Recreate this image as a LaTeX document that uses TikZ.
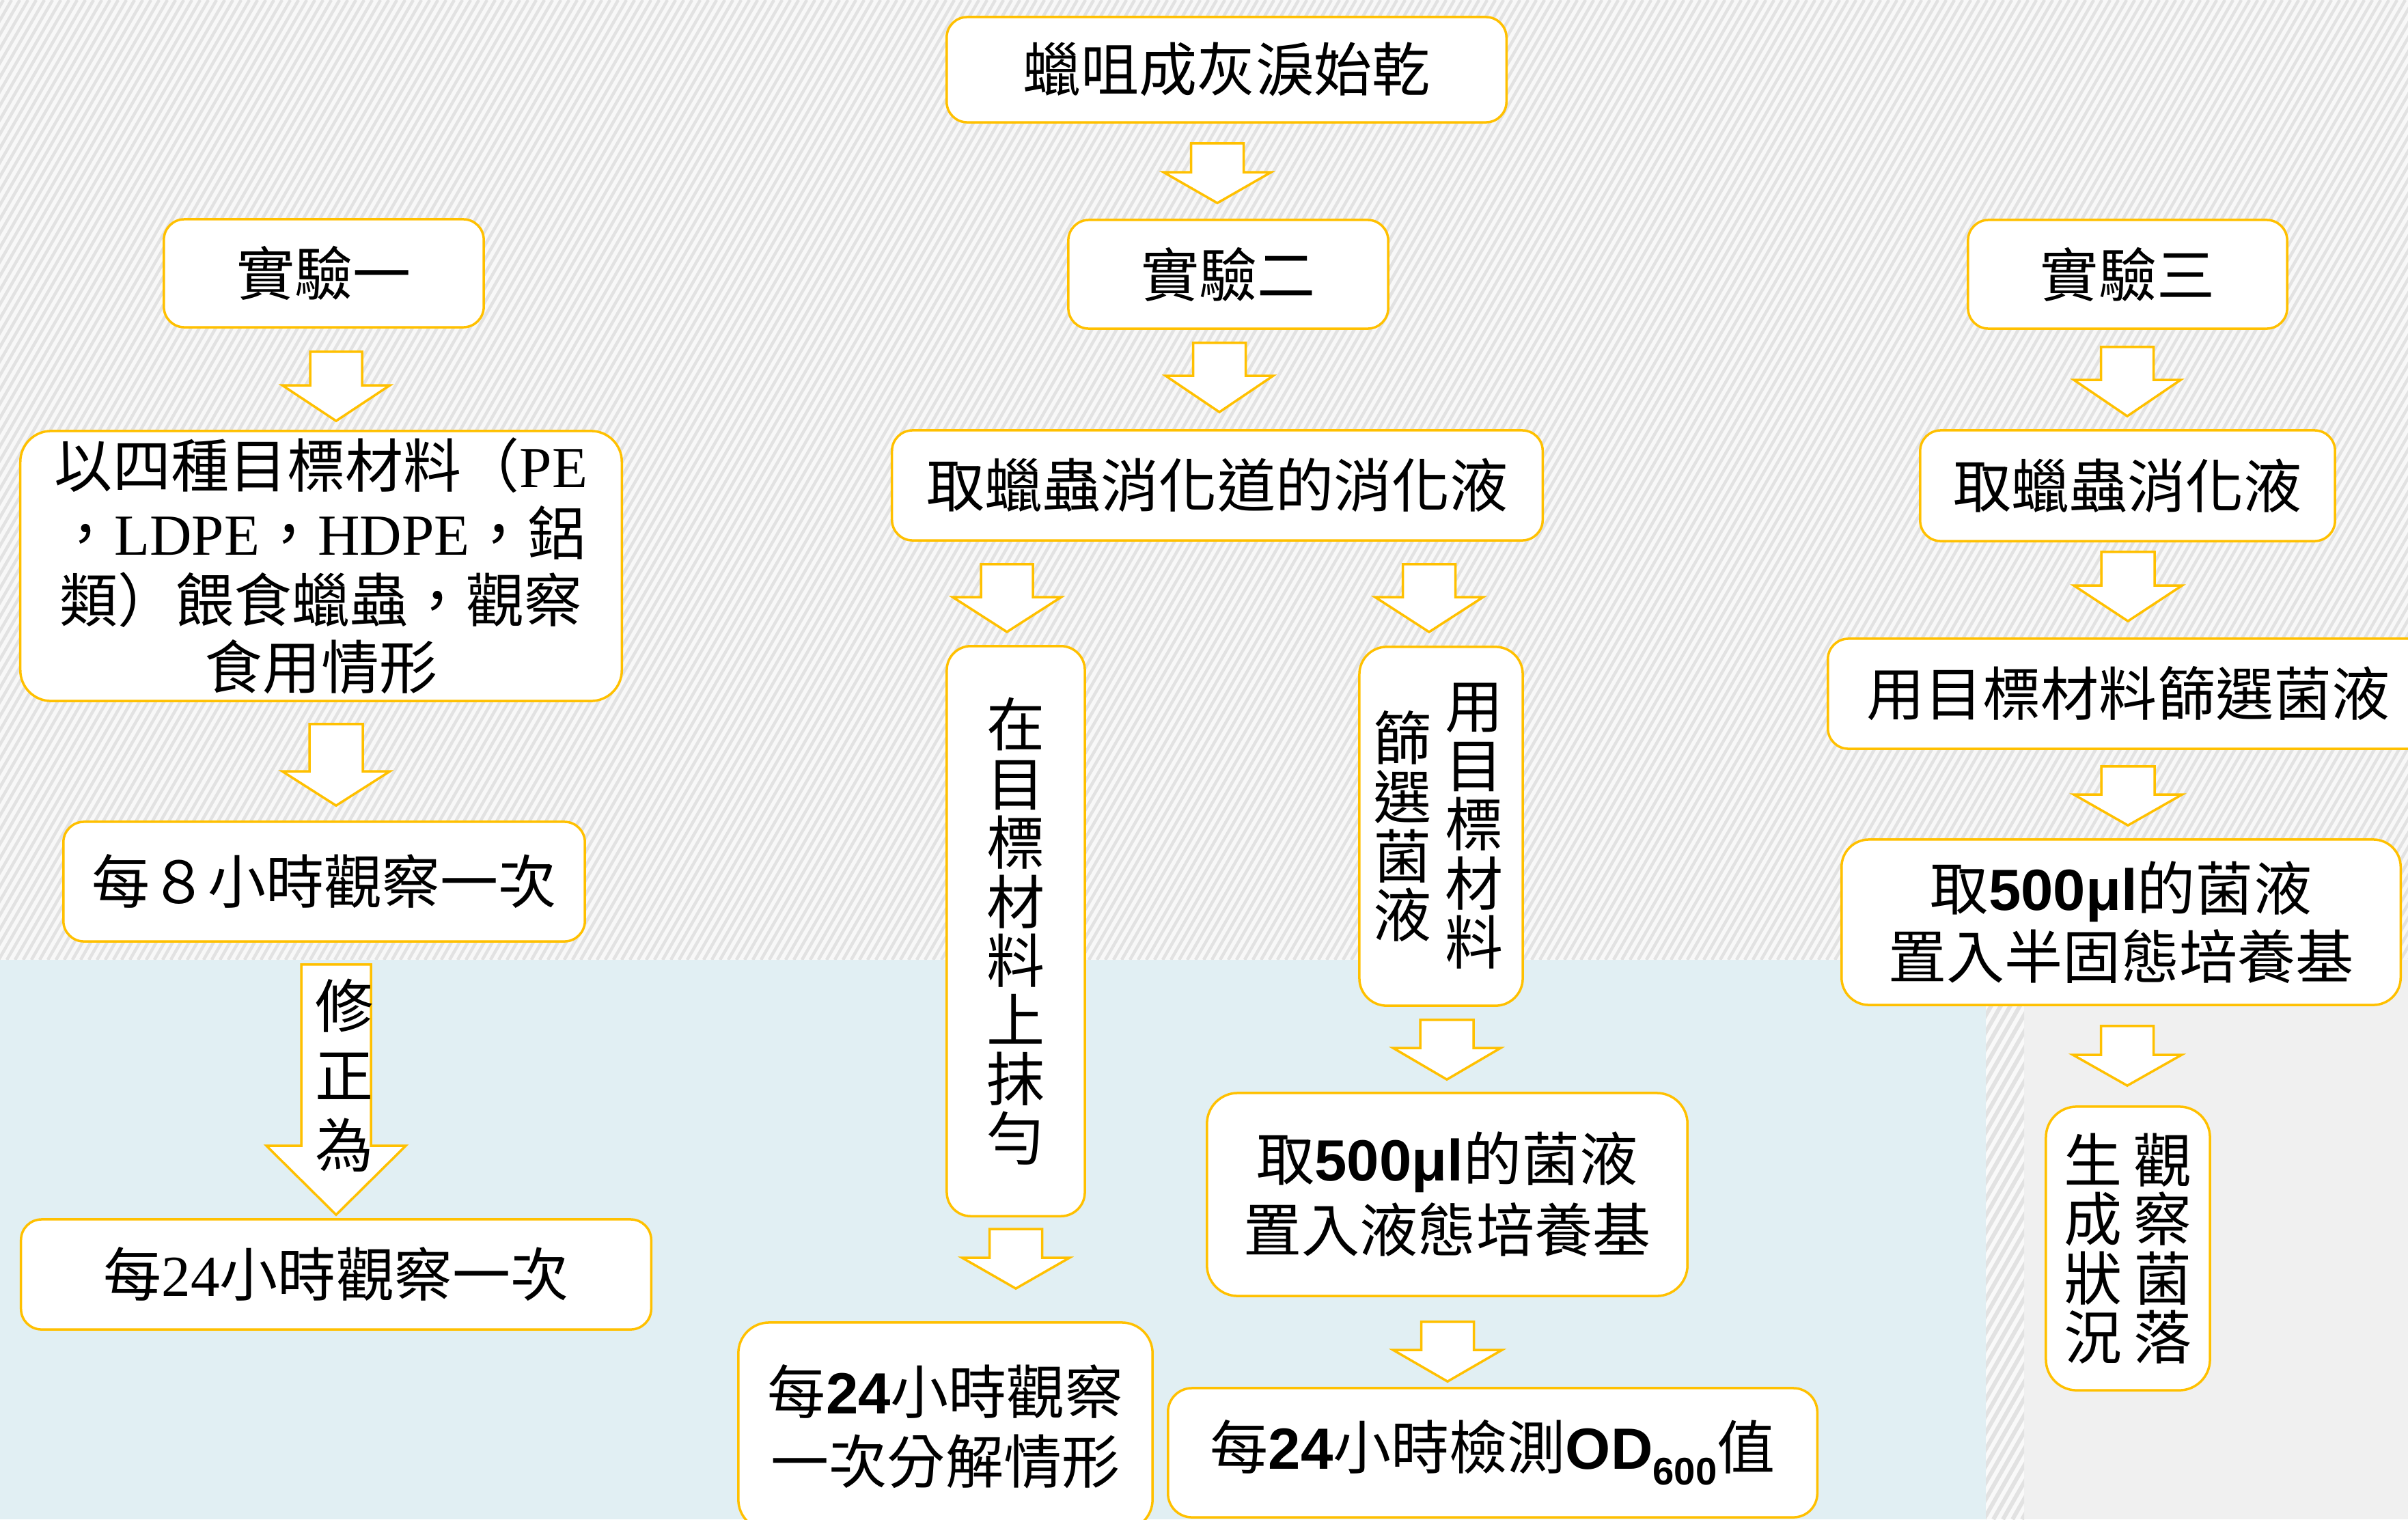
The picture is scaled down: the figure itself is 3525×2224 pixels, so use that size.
\documentclass[tikz,border=0pt]{standalone}
\usepackage{fontspec}
\setmainfont{Noto Sans CJK TC}
\newfontfamily\lser{Liberation Serif}
\newfontfamily\lsans{Liberation Sans}
\usetikzlibrary{calc}
\definecolor{gold}{HTML}{FFC000}
\definecolor{bluebg}{HTML}{E1EFF3}
\definecolor{graybg}{HTML}{F0F0F0}
\definecolor{stripecol}{HTML}{E2E2E2}
\definecolor{basebg}{HTML}{F8F8F8}
\newcommand\bsans[1]{{\lsans\bfseries #1}}
% block arrow: #1 from node, #2 to node, #3 x (px), #4 top gap, #5 bottom gap, #6 head length, #7 shaft half width, #8 head half width
\newcommand\barrow[8]{%
  \draw[blockarrow] let \p1=(#1.south), \p2=(#2.north) in
    ({(#3-#7)*0.01cm},{\y1-#4*0.01cm}) -- ({(#3+#7)*0.01cm},{\y1-#4*0.01cm})
    -- ({(#3+#7)*0.01cm},{\y2+(#5+#6)*0.01cm}) -- ({(#3+#8)*0.01cm},{\y2+(#5+#6)*0.01cm})
    -- ({#3*0.01cm},{\y2+#5*0.01cm})
    -- ({(#3-#8)*0.01cm},{\y2+(#5+#6)*0.01cm}) -- ({(#3-#7)*0.01cm},{\y2+(#5+#6)*0.01cm})
    -- cycle;}
\begin{document}
\begin{tikzpicture}[x=0.01cm,y=-0.01cm,
  box/.style={draw=gold, fill=white, line width=0.035cm, rounded corners=#1, inner sep=0pt,
    align=center, font=\fontsize{24.2pt}{28.5pt}\selectfont},
  box/.default=0.3cm,
  vtext/.style={inner sep=0pt, align=center, font=\fontsize{24.2pt}{24.6pt}\selectfont},
  blockarrow/.style={draw=gold, fill=white, line width=0.035cm, line join=miter},
  stripeline/.style={draw=stripecol, line width=0.045cm},
  stripeline2/.style={draw=stripecol, line width=0.06cm}]
\useasboundingbox (0,0) rectangle (3525,2224);
% background
\fill[basebg] (0,0) rectangle (3525,1405);
\begin{scope}
  \clip (0,0) rectangle (3525,1405);
  \foreach \i in {0,...,364} { \draw[stripeline] ({\i*12-830},1405) -- ++(811,-1405); }
\end{scope}
\fill[bluebg] (0,1405) rectangle (2907,2224);
\fill[graybg] (2963,1405) rectangle (3525,2224);
\fill[white!60!graybg] (2907,1405) rectangle (2963,2224);
\begin{scope}
  \clip (2907,1405) rectangle (2963,2224);
  \foreach \i in {0,...,75} { \draw[stripeline2] ({2400+\i*14},2224) -- ++(470,-820); }
\end{scope}

% middle column
\node[box, minimum width=8.19cm, minimum height=1.54cm] (A) at (1795.5,102) {蠟咀成灰淚始乾};
\node[box, minimum width=4.68cm, minimum height=1.59cm] (B) at (1798,401.5) {實驗二};
\node[box, minimum width=9.52cm, minimum height=1.61cm] (C) at (1782,710.5) {取蠟蟲消化道的消化液};
\node[box=0.35cm, minimum width=2.02cm, minimum height=8.34cm,
      font=\fontsize{24.2pt}{24.6pt}\selectfont] (D) at (1487,1363) {在\\目\\標\\材\\料\\上\\抹\\勻};
\node[box=0.4cm, minimum width=2.39cm, minimum height=5.25cm] (E) at (2109.5,1209.5) {};
\node[vtext] (E1) at ($(E.center)+(48.5,0)$) {用\\目\\標\\材\\料};
\node[vtext] (E2) at ($(E.center)+(-56.5,0)$) {篩\\選\\菌\\液};
\node[box=0.45cm, minimum width=7.03cm, minimum height=2.97cm,
      font=\fontsize{24.2pt}{29.5pt}\selectfont] (F) at (2118.5,1748.5) {取\bsans{500μl}的菌液\\置入液態培養基};
\node[box=0.35cm, minimum width=9.5cm, minimum height=1.89cm] (G) at (2185,2126.5)
  {每\bsans{24}小時檢測\bsans{OD}\raisebox{-0.27em}{\lsans\bfseries\fontsize{16pt}{16pt}\selectfont 600}值};
\node[box=0.45cm, minimum width=6.06cm, minimum height=3.04cm,
      font=\fontsize{24.2pt}{29pt}\selectfont] (H) at (1384,2088) {每\bsans{24}小時觀察\\一次分解情形};

% left column
\node[box, minimum width=4.68cm, minimum height=1.58cm] (I) at (474,400) {實驗一};
\node[box=0.45cm, minimum width=8.8cm, minimum height=3.95cm,
      font=\fontsize{24.2pt}{27.9pt}\selectfont] (J) at (470,828.5)
  {以四種目標材料（{\lser PE}\\，{\lser LDPE}，{\lser HDPE}，鋁\\類）餵食蠟蟲，觀察\\食用情形};
\node[box, minimum width=7.63cm, minimum height=1.75cm] (J2) at (474.5,1290.5) {每８小時觀察一次};
\node[box, minimum width=9.22cm, minimum height=1.61cm] (O) at (492,1865.5) {每{\lser 24}小時觀察一次};

% right column
\node[box, minimum width=4.67cm, minimum height=1.59cm] (P) at (3114.5,401.5) {實驗三};
\node[box, minimum width=6.07cm, minimum height=1.62cm] (L) at (3114.5,711) {取蠟蟲消化液};
\node[box, minimum width=8.79cm, minimum height=1.61cm] (M) at (3115.5,1015.5) {用目標材料篩選菌液};
\node[box=0.4cm, minimum width=8.18cm, minimum height=2.42cm] (N) at (3105,1350) {取\bsans{500μl}的菌液\\置入半固態培養基};
\node[box=0.45cm, minimum width=2.4cm, minimum height=4.15cm] (K) at (3115,1827.5) {};
\node[vtext] (K1) at ($(K.center)+(51,0)$) {觀\\察\\菌\\落};
\node[vtext] (K2) at ($(K.center)+(-51,0)$) {生\\成\\狀\\況};

% block arrows
\barrow{A}{B}{1782}{29}{23}{45}{38.5}{78.5}
\barrow{B}{C}{1785}{19}{25}{53}{38.5}{78.5}
\barrow{C}{D}{1474}{33}{19}{51}{38}{79.5}
\barrow{C}{E}{2092}{33}{20}{51}{38.5}{79}
\barrow{E}{F}{2118}{19}{18}{46}{39}{78.5}
\barrow{F}{G}{2119}{36}{8}{46}{38.5}{79.5}
\barrow{D}{H}{1487}{17}{48}{45}{38.5}{78.5}
\barrow{I}{J}{492}{34}{13}{52}{38}{78.5}
\barrow{J}{J2}{492}{32}{22}{50}{39}{78.5}
\barrow{J2}{O}{492}{32}{5}{101}{51}{102}
\barrow{P}{L}{3114}{25}{19}{53}{38.5}{78}
\barrow{L}{M}{3115}{14}{24}{52}{39}{79}
\barrow{M}{N}{3115}{24}{19}{45}{39}{79}
\barrow{N}{K}{3114}{29}{29}{45}{38.5}{79.5}
\node[vtext, font=\fontsize{24.2pt}{29pt}\selectfont] (TX) at (504,1574) {修\\正\\為};
\end{tikzpicture}
\end{document}
